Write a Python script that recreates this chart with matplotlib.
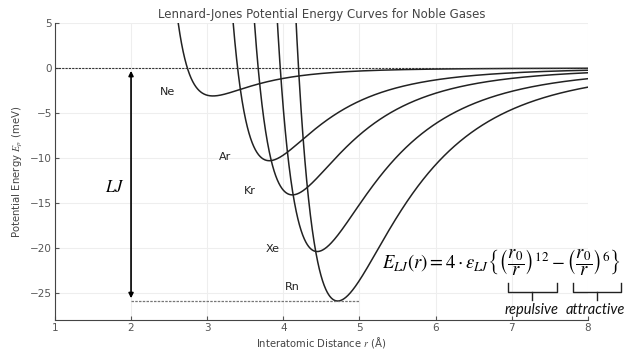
import numpy as np
import matplotlib.pyplot as plt

# parametros Lennard-Jones
gases = ["Ne", "Ar", "Kr", "Xe", "Rn"]
sigma = [2.74, 3.40, 3.67, 3.96, 4.20]      # r0 en Angstrom
epsilon = [3.1, 10.3, 14.1, 20.4, 25.9]      # profundidad del pozo en meV
label_x = [2.48, 3.24, 3.56, 3.86, 4.12]
label_y = [-2.7, -9.9, -13.7, -20.1, -24.3]

plt.rcParams['mathtext.fontset'] = 'stix'

fig = plt.figure(figsize=(6.24, 3.5), dpi=100)
ax = fig.add_axes([0.088, 0.086, 0.854, 0.848])

r = np.linspace(2.0, 8.0, 2000)
for s, e in zip(sigma, epsilon):
    E = 4 * e * ((s / r) ** 12 - (s / r) ** 6)
    ax.plot(r, E, color="#222222", lw=1.1)

for g, x, y in zip(gases, label_x, label_y):
    ax.text(x, y, g, fontsize=8, color="#222222", ha="center", va="center")

# linea de cero y nivel minimo
ax.axhline(0, color="#333333", lw=0.8, ls=(0, (2, 1)))
ax.plot([2, 5], [-max(epsilon), -max(epsilon)], color="#777777", lw=0.9, ls=(0, (2, 1)))

# flecha de profundidad
ax.annotate("", xy=(2, 0), xytext=(2, -max(epsilon)),
            arrowprops=dict(arrowstyle="<|-|>", color="black", lw=1.2, mutation_scale=7))
ax.text(1.78, -13.2, r"$LJ$", fontsize=12, ha="center", va="center")

# formula
ax.text(5.29, -21.7,
        r"$E_{LJ}(r) = 4\cdot\varepsilon_{LJ}\left\{\left(\dfrac{r_0}{r}\right)^{12}-\left(\dfrac{r_0}{r}\right)^{6}\right\}$",
        fontsize=13.4, ha="left", va="center", clip_on=False)

# llaves bajo los terminos
def brace(x0, x1, y_top, y_bot, y_tip):
    xm = (x0 + x1) / 2
    ax.plot([x0, x0, x1, x1], [y_top, y_bot, y_bot, y_top], color="#222222", lw=1.0, clip_on=False)
    ax.plot([xm, xm], [y_bot, y_tip], color="#222222", lw=1.0, clip_on=False)

brace(6.95, 7.59, -23.9, -24.9, -25.8)
brace(7.80, 8.44, -23.9, -24.9, -25.8)
ax.text(7.26, -26.9, "repulsive", fontsize=10.5, style="italic", family="Lato", ha="center", va="center",
        color="#111111", clip_on=False)
ax.text(8.10, -26.9, "attractive", fontsize=10.5, style="italic", family="Lato", ha="center", va="center",
        color="#111111", clip_on=False)

ax.set_xlim(1, 8)
ax.set_ylim(-28, 5)
ax.set_xticks(range(1, 9))
ax.set_yticks([5, 0, -5, -10, -15, -20, -25])
ax.grid(True, color="#eeeeee", lw=0.8)
for sp in ["top", "right"]:
    ax.spines[sp].set_visible(False)
for sp in ["left", "bottom"]:
    ax.spines[sp].set_color("#444444")
ax.tick_params(labelsize=7.5, colors="#555555", length=3, direction="in", pad=2)

ax.set_title("Lennard-Jones Potential Energy Curves for Noble Gases", fontsize=8.5, color="#444444", pad=4)
ax.set_xlabel("Interatomic Distance $r$ (Å)", fontsize=7.2, color="#444444", labelpad=2)
ax.set_ylabel("Potential Energy $E_p$ (meV)", fontsize=7.3, color="#444444")

plt.savefig("out.png", dpi=100)
